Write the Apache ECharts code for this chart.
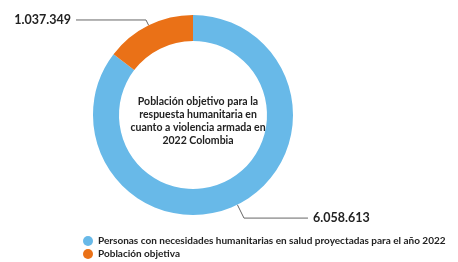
<!DOCTYPE html>
<html>
<head>
<meta charset="utf-8">
<script src="https://cdn.jsdelivr.net/npm/echarts@6/dist/echarts.min.js"></script>
<style>
html, body { margin: 0; padding: 0; background: #fff; }
#chart { width: 458px; height: 262px; }
</style>
</head>
<body>
<div id="chart"></div>
<script>
var categorias = ['Personas con necesidades humanitarias en salud proyectadas para el año 2022', 'Población objetiva'];
var valores = [6058613, 1037349];
var etiquetas = ['6.058.613', '1.037.349'];
var colores = ['#68b9e8', '#ea7117'];
var textoCentro = 'Población objetivo para la\nrespuesta humanitaria en\ncuanto a violencia armada en\n2022 Colombia';

var myChart = echarts.init(document.getElementById('chart'));

var datos = [
    { name: categorias[0], value: valores[0], label: { formatter: etiquetas[0] }, labelLine: { length: 15, length2: 64 } },
    { name: categorias[1], value: valores[1], label: { formatter: etiquetas[1] }, labelLine: { length: 6, length2: 70 } }
];

var option = {
    color: colores,
    animation: false,
    textStyle: { fontFamily: 'Lato' },
    title: {
        text: textoCentro,
        left: 193,
        top: 90,
        textAlign: 'center',
        textStyle: { fontSize: 10.5, fontWeight: 'bold', color: '#222', lineHeight: 13, fontFamily: 'Lato' }
    },
    legend: {
        orient: 'vertical',
        left: 78,
        top: 231,
        height: 40,
        itemGap: 3,
        itemWidth: 10,
        itemHeight: 10,
        icon: 'circle',
        data: categorias,
        textStyle: { fontSize: 10, fontWeight: 'bold', color: '#222', fontFamily: 'Lato' }
    },
    series: [{
        type: 'pie',
        center: [193, 115],
        radius: [74, 100],
        startAngle: 90,
        clockwise: true,
        data: datos,
        label: {
            show: true,
            position: 'outside',
            fontSize: 12.5,
            fontWeight: 'bold',
            color: '#222',
            fontFamily: 'Lato'
        },
        labelLine: {
            show: true,
            lineStyle: { color: '#666', width: 1 }
        },
        emphasis: { disabled: true }
    }]
};

myChart.setOption(option);
</script>
</body>
</html>
